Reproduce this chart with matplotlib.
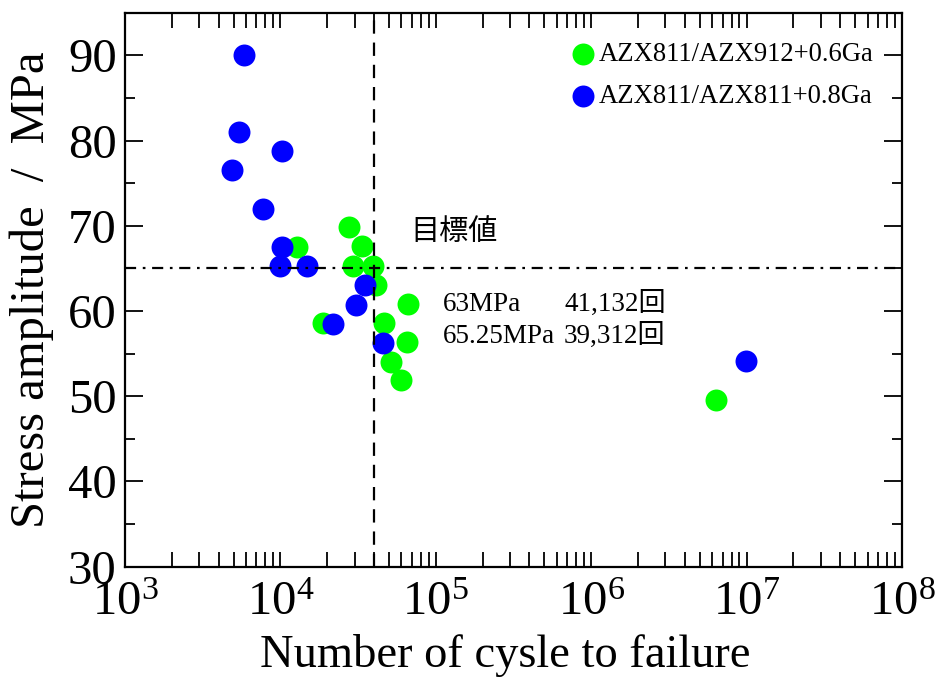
import math
import matplotlib
matplotlib.use("Agg")
import matplotlib.pyplot as plt
from matplotlib.ticker import FixedLocator, LogLocator, FuncFormatter, NullFormatter

plt.rcParams['font.family'] = ['Liberation Serif', 'Noto Sans CJK JP']
plt.rcParams['mathtext.fontset'] = 'custom'
plt.rcParams['mathtext.rm'] = 'Liberation Serif'

# Fatigue test results: cycles to failure vs stress amplitude (MPa)
green_label = "AZX811/AZX912+0.6Ga"
green_cycles = [27500, 33600, 12700, 29500, 39312, 41132, 66500, 18700,
                46600, 65000, 51300, 59700, 6.4e6]
green_stress = [69.8, 67.6, 67.55, 65.3, 65.25, 63.0, 60.8, 58.6,
                58.6, 56.35, 54.0, 51.9, 49.6]

blue_label = "AZX811/AZX811+0.8Ga"
blue_cycles = [5800, 5450, 10200, 4900, 7750, 10200, 9900, 14800,
               35000, 30600, 21800, 45700, 9.87e6]
blue_stress = [90.0, 81.0, 78.8, 76.5, 72.0, 67.5, 65.3, 65.3,
               63.0, 60.7, 58.5, 56.3, 54.1]

target_cycles = 4e4
target_stress = 65

x_ticks = [1e3, 1e4, 1e5, 1e6, 1e7, 1e8]
y_ticks = [30, 40, 50, 60, 70, 80, 90]

fig = plt.figure(figsize=(9.46, 6.80), dpi=100)
ax = fig.add_axes([125/946, 1 - 566.7/680, 777/946, 554/680])

ax.scatter(green_cycles, green_stress, s=250, color='#00FF00', lw=0,
           label=green_label, zorder=3)
ax.scatter(blue_cycles, blue_stress, s=250, color='#0000FF', lw=0,
           label=blue_label, zorder=4)

ax.axvline(target_cycles, color='black', lw=1.6, ls=(0, (6, 4)), zorder=5)
ax.axhline(target_stress, color='black', lw=1.6, ls=(0, (5, 3, 1.2, 3)), zorder=5)

ax.set_xscale('log')
ax.set_xlim(1e3, 1e8)
ax.set_ylim(30, 95)
ax.xaxis.set_major_locator(FixedLocator(x_ticks))
ax.xaxis.set_minor_locator(LogLocator(base=10, subs=range(2, 10), numticks=20))
ax.xaxis.set_minor_formatter(NullFormatter())
ax.xaxis.set_major_formatter(FuncFormatter(
    lambda v, p: r'$\mathregular{10^{%d}}$' % round(math.log10(v))))
ax.yaxis.set_major_locator(FixedLocator(y_ticks))
ax.yaxis.set_minor_locator(FixedLocator([35, 45, 55, 65, 75, 85, 95]))

for s in ax.spines.values():
    s.set_linewidth(1.6)
ax.tick_params(axis='both', which='both', direction='in', top=True, right=True,
               width=1.3)
ax.tick_params(axis='x', which='both', length=11, pad=10, labelsize=35)
ax.tick_params(axis='y', which='major', length=13, pad=6, labelsize=35)
ax.tick_params(axis='y', which='minor', length=7)

ax.set_xlabel("Number of cysle to failure", fontsize=33.5)
ax.set_ylabel("Stress amplitude  /  MPa", fontsize=35)
ax.xaxis.set_label_coords(0.49, -0.122)
ax.yaxis.set_label_coords(-0.092, 0.5)

ax.legend(loc='upper left', bbox_to_anchor=(0.572, 0.948), frameon=False,
          fontsize=19.2, handletextpad=0.1, borderpad=0, borderaxespad=0,
          labelspacing=0.65, handlelength=1.0, scatterpoints=1)

ax.text(0.367, 0.604, "目標値", transform=ax.transAxes, fontsize=21,
        family=['Noto Sans CJK JP'], va='center', ha='left')
ax.text(0.409, 0.474, "63MPa", transform=ax.transAxes, fontsize=19.5,
        va='center', ha='left')
ax.text(0.565, 0.474, "41,132回", transform=ax.transAxes, fontsize=19.5,
        va='center', ha='left')
ax.text(0.409, 0.416, "65.25MPa", transform=ax.transAxes, fontsize=19.5,
        va='center', ha='left')
ax.text(0.565, 0.416, "39,312回", transform=ax.transAxes, fontsize=19.5,
        va='center', ha='left')

fig.savefig("out.png", dpi=100)
